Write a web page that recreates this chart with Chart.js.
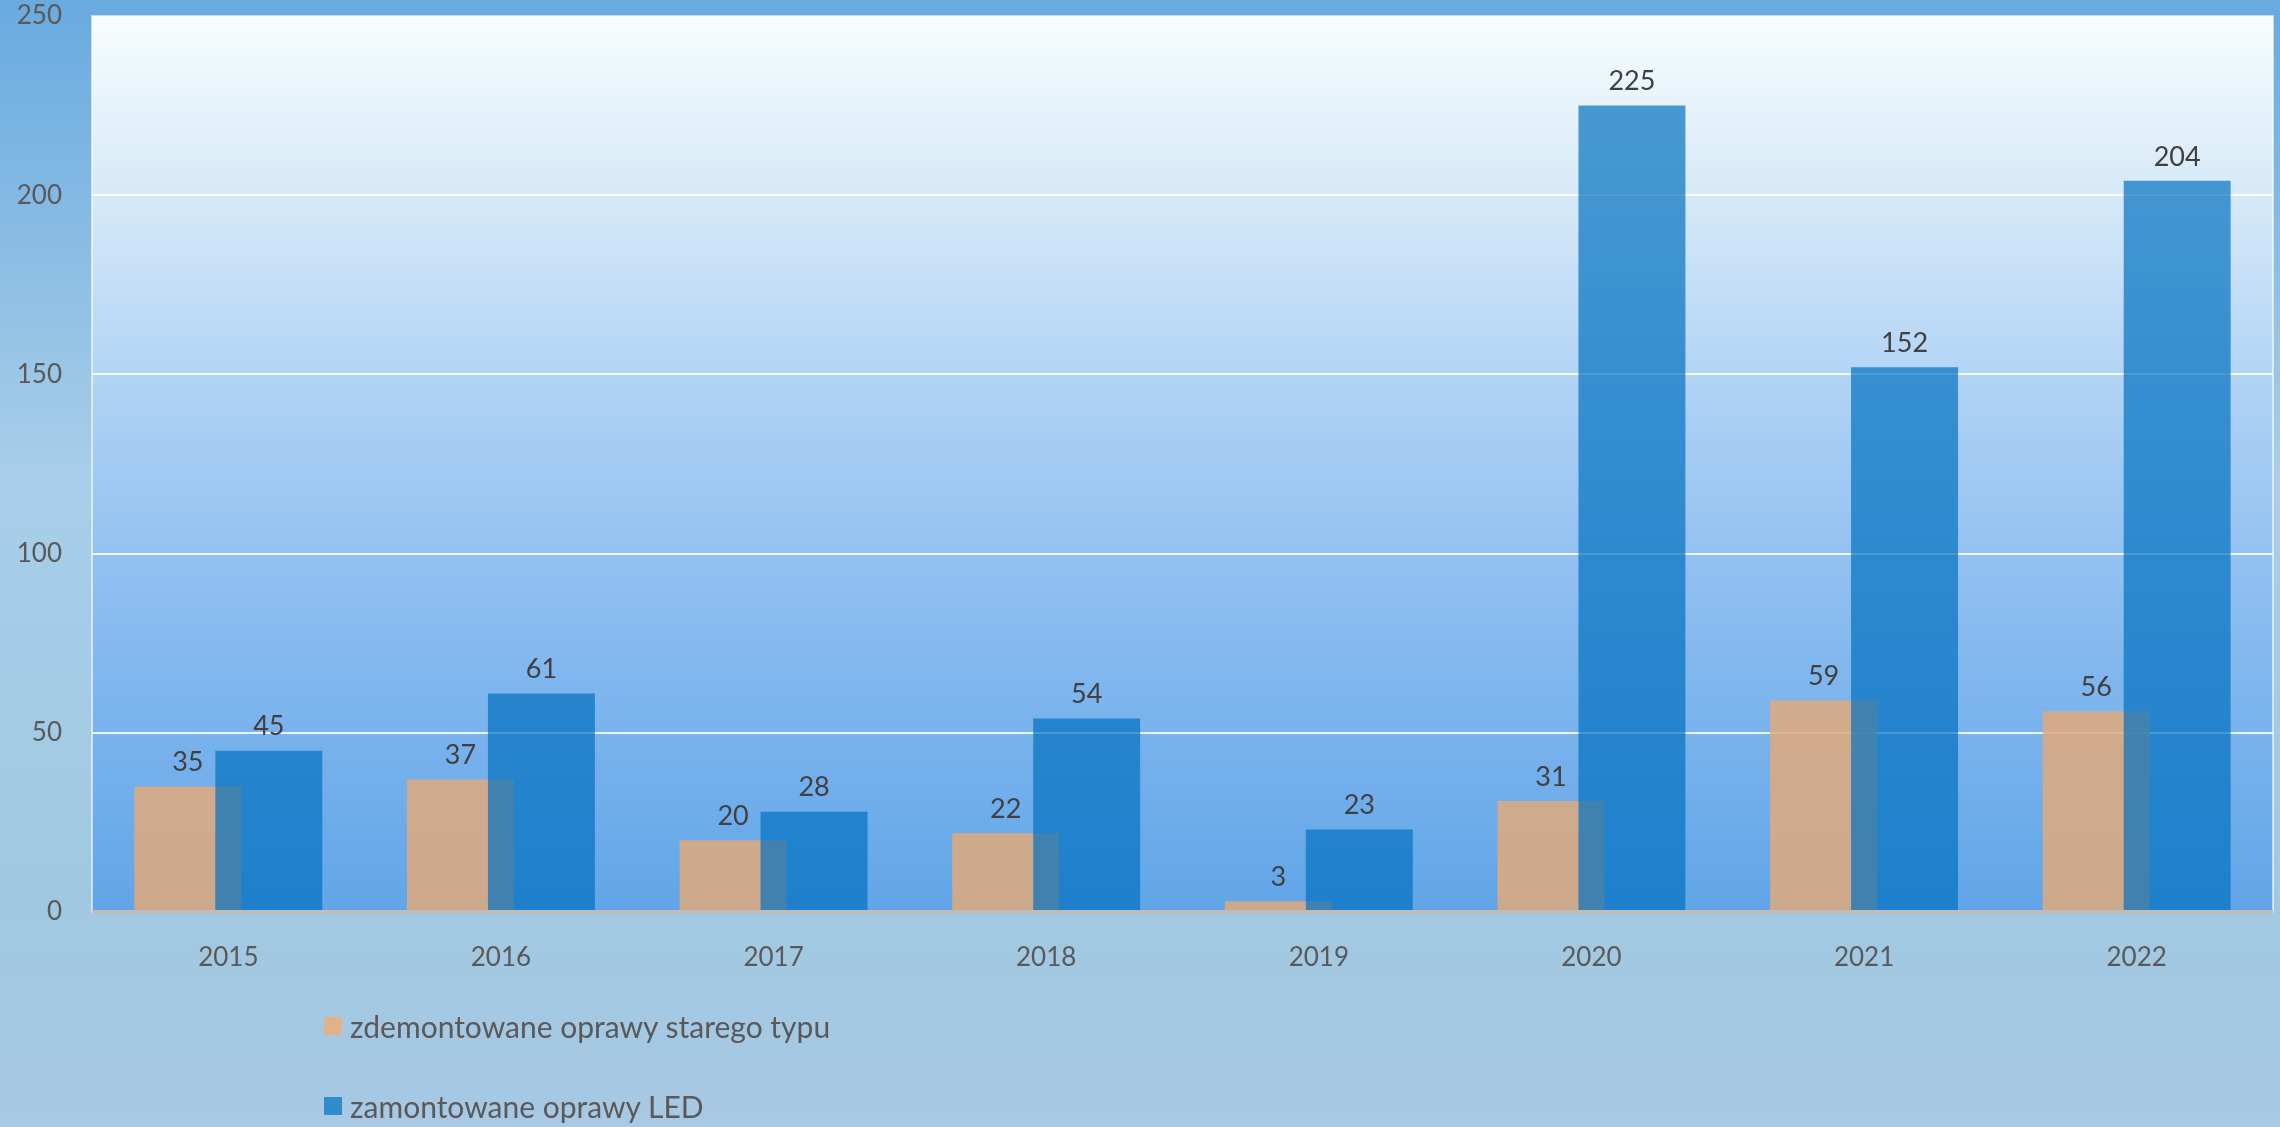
<!DOCTYPE html>
<html>
<head>
<meta charset="utf-8">
<script src="https://cdn.jsdelivr.net/npm/chart.js@4.4.1/dist/chart.umd.min.js"></script>
<style>
  body { margin: 0; overflow: hidden; }
  #wrap { position: relative; width: 2280px; height: 1127px; }
  #legend { position: absolute; left: 324px; top: 1006px; font-family: Lato, sans-serif; font-size: 30px; color: #595959; }
  .item { display: flex; align-items: center; height: 40px; margin-bottom: 40px; }
  .swatch { width: 18px; height: 18px; margin-right: 8px; }
</style>
</head>
<body>
<div id="wrap">
  <canvas id="chart" width="2280" height="1127"></canvas>
  <div id="legend"></div>
</div>
<script>
const years = ["2015", "2016", "2017", "2018", "2019", "2020", "2021", "2022"];
const oldRemoved = [35, 37, 20, 22, 3, 31, 59, 56];
const ledInstalled = [45, 61, 28, 54, 23, 225, 152, 204];
const yTicks = [0, 50, 100, 150, 200, 250];

const seriesNames = ["zdemontowane oprawy starego typu", "zamontowane oprawy LED"];
const barColors = ["rgba(224, 169, 123, 0.85)", "rgba(0, 112, 191, 0.69)"];
const legendColors = ["#e1b28a", "#328bcb"];

// backgrounds: outer frame + plot area gradient
const backdrop = {
  id: "backdrop",
  beforeDraw(chart) {
    const { ctx, width, height, chartArea } = chart;
    ctx.save();
    let g = ctx.createLinearGradient(0, 0, 0, height);
    g.addColorStop(0, "#69aadf");
    g.addColorStop(0.42, "#a8cee9");
    g.addColorStop(0.8, "#a0c9e1");
    g.addColorStop(1, "#a8c8e3");
    ctx.fillStyle = g;
    ctx.fillRect(0, 0, width, height);

    g = ctx.createLinearGradient(0, chartArea.top, 0, chartArea.bottom);
    g.addColorStop(0, "#f7fdfd");
    g.addColorStop(0.2, "#d6e9f8");
    g.addColorStop(0.45, "#a9cff4");
    g.addColorStop(0.7, "#85b9ef");
    g.addColorStop(1, "#61a5e8");
    ctx.fillStyle = g;
    ctx.fillRect(chartArea.left, chartArea.top, chartArea.right - chartArea.left, chartArea.bottom - chartArea.top);
    ctx.strokeStyle = "rgba(255,255,255,0.6)";
    ctx.lineWidth = 2;
    ctx.strokeRect(chartArea.left, chartArea.top, chartArea.right - chartArea.left, chartArea.bottom - chartArea.top);
    ctx.restore();
  }
};

// LED bars sit on top of the old ones
const layering = {
  id: "layering",
  beforeDatasetDraw(chart, args) {
    if (args.index === 1) return false;
  },
  afterDatasetsDraw(chart) {
    chart.getDatasetMeta(1).controller.draw();
  }
};

const valueLabels = {
  id: "valueLabels",
  afterDatasetsDraw(chart) {
    const ctx = chart.ctx;
    ctx.save();
    ctx.font = "27px Lato";
    ctx.fillStyle = "#404040";
    ctx.textAlign = "center";
    ctx.textBaseline = "middle";
    chart.data.datasets.forEach((ds, i) => {
      chart.getDatasetMeta(i).data.forEach((bar, j) => {
        ctx.fillText(ds.data[j], bar.x, bar.y - 24);
      });
    });
    ctx.restore();
  }
};

const chart = new Chart(document.getElementById("chart"), {
  type: "bar",
  data: {
    labels: years,
    datasets: [
      {
        label: seriesNames[0],
        data: oldRemoved,
        backgroundColor: barColors[0],
        categoryPercentage: 0.594,
        barPercentage: 1.321,
      },
      {
        label: seriesNames[1],
        data: ledInstalled,
        backgroundColor: barColors[1],
        categoryPercentage: 0.594,
        barPercentage: 1.321,
      },
    ],
  },
  options: {
    responsive: false,
    animation: false,
    devicePixelRatio: 1,
    layout: { padding: { top: 16, right: 7, left: 0, bottom: 0 } },
    plugins: {
      legend: { display: false },
      tooltip: { enabled: false },
    },
    scales: {
      x: {
        grid: { display: false },
        border: { display: false },
        ticks: { padding: 22, color: "#595959", font: { family: "Lato", size: 26 } },
        afterFit: (scale) => { scale.height = 215; },
      },
      y: {
        min: 0,
        max: 250,
        afterBuildTicks: (scale) => { scale.ticks = yTicks.map((v) => ({ value: v })); },
        grid: {
          drawTicks: false,
          color: (c) => (c.tick.value === 0 ? "#bdbdbd" : c.tick.value === 250 ? "rgba(0,0,0,0)" : "rgba(255,255,255,0.85)"),
          lineWidth: (c) => (c.tick.value === 0 ? 4 : 2),
        },
        border: { display: false },
        ticks: { padding: 30, color: "#595959", font: { family: "Lato", size: 26 } },
        afterFit: (scale) => {
          scale.width = 92;
          scale.paddingTop = 0;
          scale.paddingBottom = 0;
        },
      },
    },
  },
  plugins: [backdrop, layering, valueLabels],
});

const legend = document.getElementById("legend");
chart.data.datasets.forEach((ds, i) => {
  const item = document.createElement("div");
  item.className = "item";
  item.innerHTML = '<span class="swatch" style="background:' + legendColors[i] + '"></span>' + ds.label;
  legend.appendChild(item);
});
</script>
</body>
</html>
